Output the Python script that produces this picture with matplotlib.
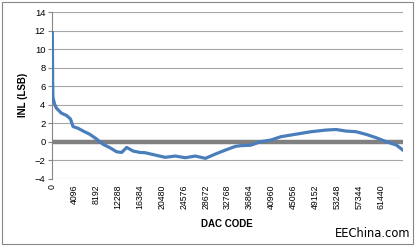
import matplotlib
matplotlib.use("Agg")
import matplotlib.pyplot as plt
from matplotlib.patches import Rectangle

# Data
dac_codes = [0, 30, 60, 113, 400, 750, 1690, 2630, 3380, 3870, 4810, 5750,
             7010, 8270, 9510, 10770, 12030, 12970, 13900, 15150, 16400,
             17340, 19220, 21100, 22980, 24860, 26740, 28620, 30500, 32380,
             34260, 35200, 37080, 38960, 40840, 42720, 44590, 46470, 48350,
             50230, 51170, 53050, 54920, 56800, 58680, 60560, 62440, 64320,
             65535]
inl_values = [11.8, 9.0, 6.7, 4.8, 4.1, 3.64, 3.09, 2.84, 2.47, 1.64, 1.45,
              1.16, 0.8, 0.29, -0.29, -0.65, -1.09, -1.16, -0.62, -1.02,
              -1.16, -1.19, -1.44, -1.69, -1.55, -1.73, -1.55, -1.8, -1.33,
              -0.9, -0.5, -0.43, -0.38, 0.0, 0.18, 0.54, 0.72, 0.9, 1.08,
              1.2, 1.26, 1.32, 1.15, 1.08, 0.79, 0.43, 0.0, -0.36, -0.9]
zero_line = [0, 0]
zero_codes = [0, 65535]
x_ticks = list(range(0, 65536, 4096))[:16]
y_ticks = [-4, -2, 0, 2, 4, 6, 8, 10, 12, 14]

plt.rcParams['font.family'] = ['Liberation Sans', 'DejaVu Sans']

fig = plt.figure(figsize=(4.17, 2.47), dpi=100)
ax = fig.add_axes([0.1255, 0.2765, 0.8405, 0.674])

for yv in y_ticks:
    ax.axhline(yv, color='#a6a6a6', lw=0.8, zorder=1)
ax.plot(zero_codes, zero_line, color='#808080', lw=3.2, solid_capstyle='butt', zorder=2)
ax.plot(dac_codes, inl_values, color='#4a7ebb', lw=2.3, zorder=3,
        solid_joinstyle='round')

ax.set_xlim(0, 65535)
ax.set_ylim(-4, 14)
ax.set_yticks(y_ticks)
ax.set_xticks(x_ticks)
ax.set_xticklabels([str(t) for t in x_ticks], rotation=90, fontsize=6.3)
ax.tick_params(axis='y', labelsize=6.8, length=3, color='#868686', pad=2)
ax.tick_params(axis='x', length=0, pad=4)
for s in ['top', 'right', 'bottom']:
    ax.spines[s].set_visible(False)
ax.spines['left'].set_color('#868686')
ax.spines['left'].set_linewidth(0.8)

fig.text(0.055, 0.615, 'INL (LSB)', rotation=90, ha='center', va='center',
         fontsize=7, fontweight='bold')
fig.text(0.543, 0.093, 'DAC CODE', ha='center', va='center', fontsize=7,
         fontweight='bold')
fig.text(0.985, 0.055, 'EEChina.com', ha='right', va='center', fontsize=8.3,
         family='DejaVu Sans')

fig.add_artist(Rectangle((0.005, 0.012), 0.985, 0.98, transform=fig.transFigure,
                         fill=False, edgecolor='#868686', lw=0.8))

fig.savefig('out.png', dpi=100)
